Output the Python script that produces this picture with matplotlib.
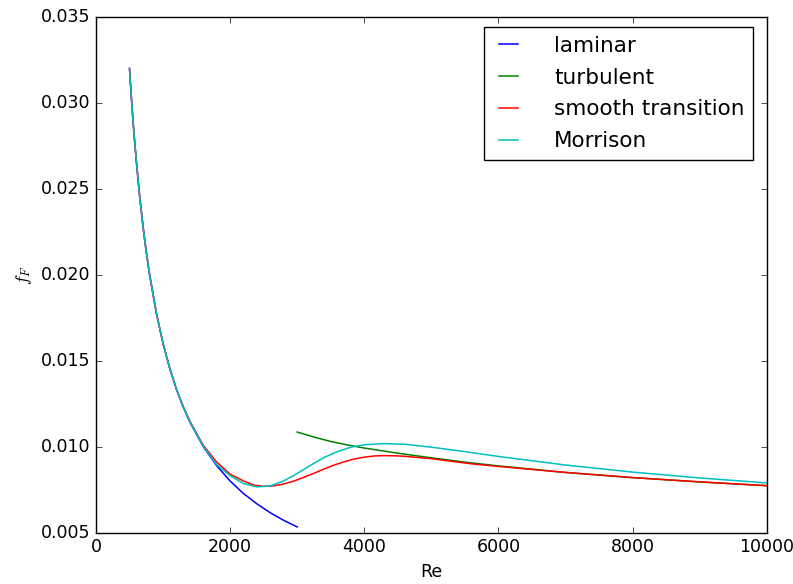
import matplotlib
matplotlib.use('agg')
import matplotlib.pyplot as plt

# values
re_lam = [500, 525, 550, 575, 600, 650, 700, 750, 800, 900, 1000, 1100, 1200,
          1300, 1400, 1600, 1800, 2000, 2200, 2400, 2600, 2800, 3000]
f_lam = [0.0320, 0.03048, 0.0291, 0.02783, 0.0267, 0.02462, 0.02286, 0.02133,
         0.0200, 0.01778, 0.0160, 0.01455, 0.01333, 0.01231, 0.01143, 0.0100,
         0.00889, 0.0080, 0.00727, 0.00667, 0.00615, 0.00571, 0.00533]

re_turb = [3000, 3250, 3500, 3750, 4000, 4500, 5000, 5500, 6000, 7000, 8000,
           9000, 10000]
f_turb = [0.01085, 0.01056, 0.0103, 0.0101, 0.00992, 0.00962, 0.00935, 0.0091,
          0.00888, 0.0085, 0.0082, 0.00795, 0.00773]

re_smooth = [500, 525, 550, 575, 600, 650, 700, 750, 800, 900, 1000, 1100,
             1200, 1300, 1400, 1600, 1800, 2000, 2200, 2350, 2500, 2650, 2800,
             2950, 3100, 3250, 3400, 3550, 3700, 3850, 4000, 4150, 4300, 4450,
             4600, 4800, 5000, 5300, 5600, 6000, 7000, 8000, 9000, 10000]
f_smooth = [0.0320, 0.03048, 0.0291, 0.02783, 0.0267, 0.02462, 0.02286,
            0.02133, 0.0200, 0.01778, 0.0160, 0.01456, 0.01335, 0.01234,
            0.01148, 0.01008, 0.0091, 0.0084, 0.0080, 0.00777, 0.00769,
            0.00772, 0.00783, 0.0080, 0.00822, 0.00845, 0.0087, 0.00893,
            0.00912, 0.00928, 0.00939, 0.00946, 0.00948, 0.00947, 0.00944,
            0.00937, 0.0093, 0.00915, 0.009, 0.00885, 0.0085, 0.0082, 0.00795,
            0.00773]

re_morr = [500, 525, 550, 575, 600, 650, 700, 750, 800, 900, 1000, 1100, 1200,
           1300, 1400, 1600, 1800, 2000, 2200, 2400, 2600, 2800, 3000, 3200,
           3400, 3600, 3800, 4000, 4300, 4600, 5000, 5500, 6000, 7000, 8000,
           9000, 10000]
f_morr = [0.0320, 0.03048, 0.0291, 0.02783, 0.0267, 0.02462, 0.02286, 0.02133,
          0.0200, 0.01778, 0.0160, 0.01455, 0.01334, 0.01232, 0.01145, 0.01003,
          0.00895, 0.00831, 0.00785, 0.00766, 0.00772, 0.00801, 0.00844,
          0.00892, 0.00937, 0.00971, 0.00997, 0.01011, 0.01018, 0.01014,
          0.00997, 0.00971, 0.00943, 0.00893, 0.00852, 0.00818, 0.00789]

plt.style.use('classic')
fig = plt.figure(figsize=(7.93, 5.84), dpi=100, facecolor='white')
ax = fig.add_axes([0.121, 0.088, 0.846, 0.883])

ax.plot(re_lam, f_lam, 'b', lw=1.1, label='laminar')
ax.plot(re_turb, f_turb, 'g', lw=1.1, label='turbulent')
ax.plot(re_smooth, f_smooth, 'r', lw=1.1, label='smooth transition')
ax.plot(re_morr, f_morr, 'c', lw=1.1, label='Morrison')

ax.set_xlim(0, 10000)
ax.set_ylim(0.005, 0.035)
ax.tick_params(labelsize=12.5)
ax.set_xlabel('Re', fontsize=12.5)
ax.set_ylabel('$f_F$', fontsize=12.5)
ax.legend(loc='upper right', fontsize=15.5, handlelength=1.45,
          handletextpad=1.4, labelspacing=0.55,
          bbox_to_anchor=(0.996, 1.001))

fig.savefig('out.png', dpi=100, facecolor='white')
